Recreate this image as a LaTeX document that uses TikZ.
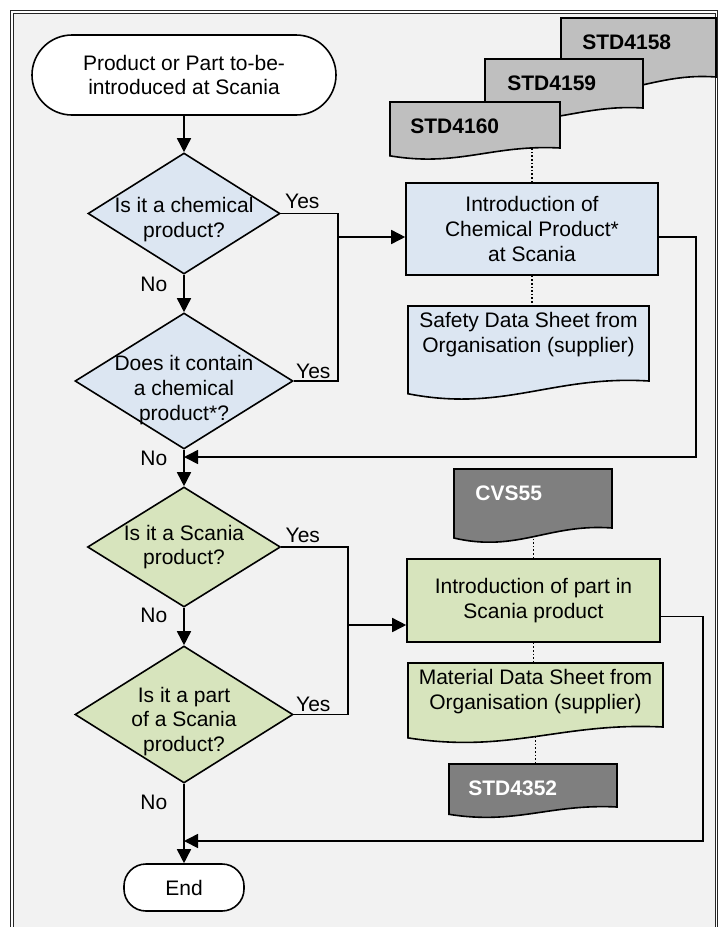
\documentclass[tikz,border=0pt]{standalone}
\usepackage{fontspec}
\setmainfont{Liberation Sans}
\usepackage{xcolor}
\usetikzlibrary{shapes.geometric,arrows.meta,positioning}

\definecolor{framebg}{HTML}{F2F2F2}
\definecolor{chemblue}{HTML}{DCE6F2}
\definecolor{partgreen}{HTML}{D7E4BD}
\definecolor{stdgray}{HTML}{BFBFBF}
\definecolor{docdark}{HTML}{7F7F7F}

% sheet with a wavy lower edge: name, left, top, width, height, fill
\newcommand{\docsheet}[6]{%
  \filldraw[sheet, fill=#6] (#2,#3) -- (#2+#4,#3) -- (#2+#4,#3+#5)
    .. controls (#2+0.6*#4,#3+#5-0.08*#5) and (#2+0.4*#4,#3+#5+0.42*#5) .. (#2,#3+#5+0.17*#5) -- cycle;
  \coordinate (#1-top) at (#2+0.5*#4,#3);
  \coordinate (#1-br) at (#2+#4,#3+#5);
  \coordinate (#1-bot) at (#2+0.5*#4,#3+#5+0.15*#5);
}

\begin{document}
\begin{tikzpicture}[x=0.5pt, y=-0.5pt,
    font=\fontsize{10.5}{12.3}\selectfont,
    terminal/.style={draw, fill=white, line width=0.8pt, align=center, inner sep=0pt},
    decision/.style={diamond, draw, line width=0.8pt, inner sep=0pt},
    qtext/.style={align=center, inner sep=0pt},
    process/.style={rectangle, draw, line width=0.8pt, align=center, inner sep=0pt},
    sheet/.style={draw=black, line width=0.8pt},
    flow/.style={line width=0.8pt, -{Triangle[length=7pt,width=7pt]}},
    link/.style={line width=0.8pt},
    dotlink/.style={densely dotted, line width=0.8pt},
    lbl/.style={inner sep=0pt},
    stdtext/.style={font=\fontsize{10.5}{12.3}\selectfont\bfseries, anchor=west, inner sep=0pt}]

    % Page and frame
    \useasboundingbox (0,0) rectangle (719,927);
    \clip (0,0) rectangle (719,927);
    \fill[white] (0,0) rectangle (719,927);
    \filldraw[fill=framebg, draw=black!85, double=white, line width=0.5pt, double distance=0.8pt]
        (12,12) rectangle (716.5,960);

    % Main column
    \node[terminal, rounded corners=20pt, minimum width=152pt, minimum height=40pt] (start) at (184,75)
        {Product or Part to-be-\\introduced at Scania};
    \node[decision, fill=chemblue, minimum width=96pt, minimum height=60.5pt,
        label={[qtext, yshift=-3pt]center:Is it a chemical\\product?}] (q1) at (184,213.5) {};
    \node[decision, fill=chemblue, minimum width=109pt, minimum height=68pt,
        label={[qtext, yshift=-4.5pt]center:Does it contain\\a chemical\\product*?}] (q2) at (184,381) {};
    \node[decision, fill=partgreen, minimum width=96.5pt, minimum height=60pt,
        label={[qtext]center:Is it a Scania\\product?}] (q3) at (184,547) {};
    \node[decision, fill=partgreen, minimum width=109pt, minimum height=68.5pt,
        label={[qtext, yshift=-3.5pt]center:Is it a part\\of a Scania\\product?}] (q4) at (184,714.5) {};
    \node[terminal, rounded corners=11pt, minimum width=60pt, minimum height=23.5pt] (end) at (184,887.5) {End};

    % Process boxes
    \node[process, fill=chemblue, minimum width=126pt, minimum height=46pt] (p1) at (532,229)
        {Introduction of\\Chemical Product*\\at Scania};
    \node[process, fill=partgreen, minimum width=126.5pt, minimum height=41.5pt] (p2) at (533.5,600.5)
        {Introduction of part in\\Scania product};

    % Standards and data sheets
    \docsheet{std58}{561}{18}{155}{59}{stdgray}
    \docsheet{std59}{485}{59}{158}{49}{stdgray}
    \docsheet{std60}{390}{102}{170}{46}{stdgray}
    \docsheet{sds}{408}{306}{241}{75}{chemblue}
    \docsheet{cvs}{454}{469}{158}{59}{docdark}
    \docsheet{mds}{408}{663}{255}{64}{partgreen}
    \docsheet{std52}{449}{764}{168}{43}{docdark}

    \node[stdtext] (t58) at (582,42) {STD4158};
    \node[stdtext] (t59) at (507,83) {STD4159};
    \node[stdtext] (t60) at (410,126) {STD4160};
    \node[stdtext, text=white] (tcvs) at (475,493) {CVS55};
    \node[stdtext, text=white] (t52) at (468,788) {STD4352};
    \node[qtext] (tsds) at (528.5,334.5) {Safety Data Sheet from\\Organisation (supplier)};
    \node[qtext] (tmds) at (535.5,691.5) {Material Data Sheet from\\Organisation (supplier)};

    % No branches
    \draw[flow] (start) -- (q1);
    \draw[flow] (q1) -- node[lbl, pos=0.25, left=8pt] {No} (q2);
    \draw[flow] (q2) -- node[lbl, pos=0.24, left=8pt] {No} (q3);
    \draw[flow] (q3) -- node[lbl, pos=0.2, left=8pt] {No} (q4);
    \draw[flow] (q4) -- node[lbl, pos=0.23, left=8pt] {No} (end);

    % Yes branches
    \coordinate (m1) at (338,237);
    \coordinate (m2) at (348,625);
    \draw[link] (q1.east) -| (m1) |- (q2.east);
    \draw[flow] (m1) -- (m1 -| p1.west);
    \draw[link] (q3.east) -| (m2) |- (q4.east);
    \draw[flow] (m2) -- (m2 -| p2.west);
    \node[lbl, anchor=south west] (y1) at ([xshift=2pt, yshift=2pt]q1.east) {Yes};
    \node[lbl, anchor=south west] (y2) at ([xshift=1pt, yshift=1pt]q2.east) {Yes};
    \node[lbl, anchor=south west] (y3) at ([xshift=2pt, yshift=2pt]q3.east) {Yes};
    \node[lbl, anchor=south west] (y4) at ([xshift=1pt, yshift=1pt]q4.east) {Yes};

    % Return lines
    \coordinate (j1) at (184,457);
    \coordinate (j2) at (184,841);
    \draw[flow] ([yshift=-4pt]p1.east) -- ++(37,0) |- (j1);
    \draw[flow] ([yshift=-8pt]p2.east) -- ++(42,0) |- (j2);

    % Dotted references
    \draw[dotlink] (p1.north) -- (p1.north |- std60-br);
    \draw[dotlink] (p1.south) -- (p1.south |- sds-top);
    \draw[dotlink] (p2.north) -- (p2.north |- cvs-bot);
    \draw[dotlink] (p2.south) -- (p2.south |- mds-top);
    \draw[dotlink] (mds-bot) -- (mds-bot |- std52-top);
\end{tikzpicture}
\end{document}
